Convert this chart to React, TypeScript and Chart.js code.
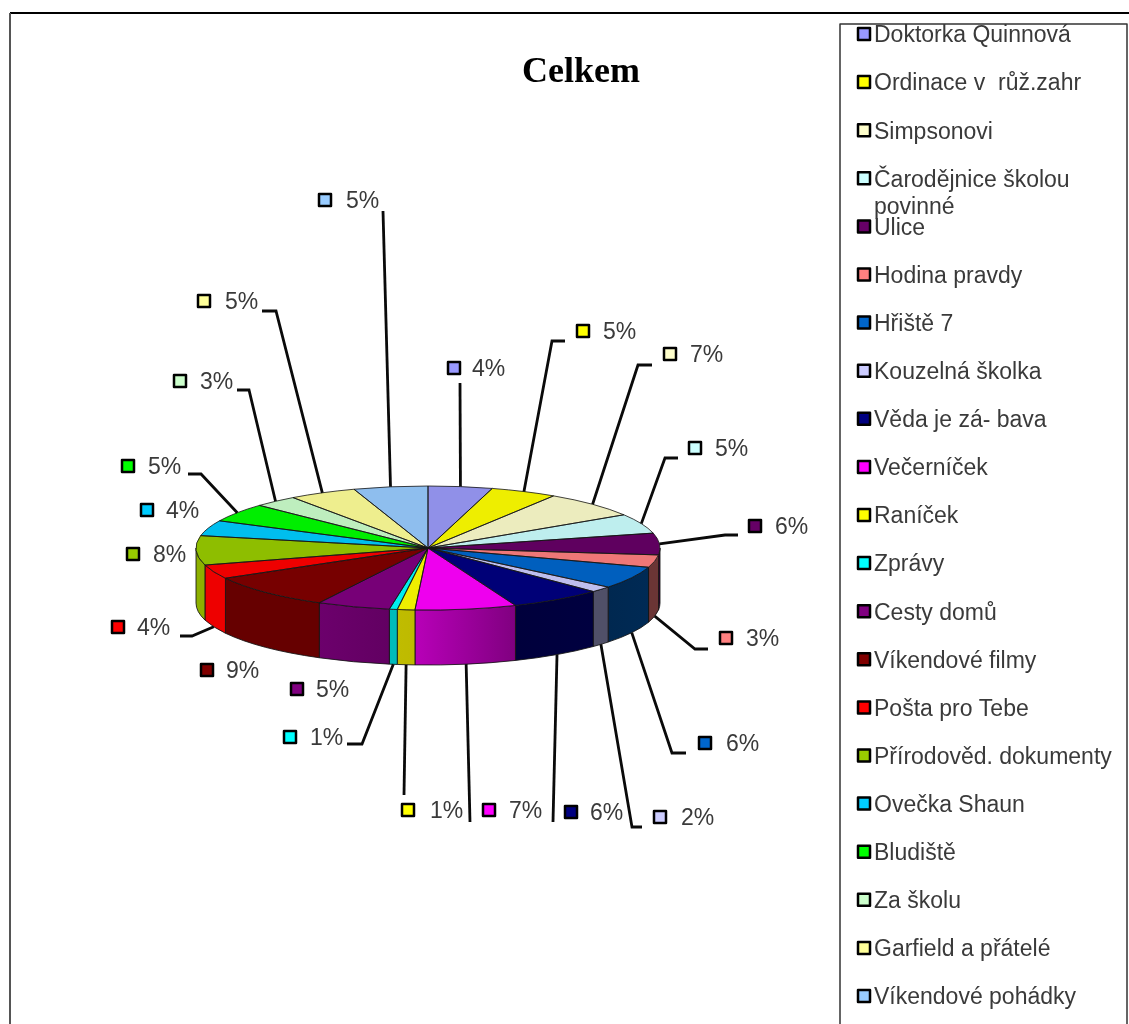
import React, { useEffect, useRef } from "react";
import { Chart, registerables } from "chart.js";

Chart.register(...registerables);

const categories = [
  "Doktorka Quinnová", "Ordinace v  růž.zahr", "Simpsonovi", "Čarodějnice školou povinné", "Ulice",
  "Hodina pravdy", "Hřiště 7", "Kouzelná školka", "Věda je zá- bava", "Večerníček", "Raníček", "Zprávy",
  "Cesty domů", "Víkendové filmy", "Pošta pro Tebe", "Přírodověd. dokumenty", "Ovečka Shaun",
  "Bludiště", "Za školu", "Garfield a přátelé", "Víkendové pohádky",
];
const shares = [
  4.47, 4.64, 6.9, 5.14, 5.64, 3.25, 5.83, 1.53, 6.47, 7.05, 1.22, 0.55, 5.1, 9.14, 3.67, 7.64, 4.03, 4.83, 3.06, 4.72, 5.17,
];
const legendColors = [
  "#9999FF", "#FFFF00", "#FFFFCC", "#CCFFFF", "#660066", "#FF8080", "#0066CC", "#CCCCFF", "#000080", "#FF00FF", "#FFFF00",
  "#00FFFF", "#800080", "#800000", "#FF0000", "#99CC00", "#00CCFF", "#00FF00", "#CCFFCC", "#FFFF99", "#99CCFF",
];
const faceColors = [
  "#9090E8", "#EEEE00", "#ECECBE", "#BEEEEE", "#5F005F", "#EE7777", "#005FBE", "#BEBEEE", "#000077", "#EE00EE", "#EEEE00",
  "#00EEEE", "#770077", "#770000", "#EE0000", "#8EBE00", "#00BEEE", "#00EE00", "#BEEEBE", "#EEEE8E", "#8EBEEE",
];
// wall shading of each slice: [left end, right end]
const wallColors: [string, string][] = [
  ["#5a5a90", "#5a5a90"], ["#909000", "#909000"], ["#909070", "#909070"], ["#709090", "#709090"], ["#3a003a", "#3a003a"],
  ["#6B3535", "#6B3535"], ["#002850", "#002A55"], ["#505068", "#505068"], ["#00003C", "#000040"], ["#B800B8", "#800080"],
  ["#C0BC00", "#BEBA00"], ["#00BBBB", "#00BBBB"], ["#6C006C", "#620062"], ["#660000", "#660000"], ["#EE0000", "#EE0000"],
  ["#8DB000", "#8DB000"], ["#00A0D0", "#00A0D0"], ["#00C000", "#00C000"], ["#A0C0A0", "#A0C0A0"], ["#C0C070", "#C0C070"], ["#7098C0", "#7098C0"],
];

const chartTitle = "Celkem";
const legendLines: string[][] = categories.map((c) => (c.startsWith("Čarodějnice") ? ["Čarodějnice školou", "povinné"] : [c]));

const SQUASH = 62 / 232;
const DEPTH = 55;

// label layout: marker centre x, y, text x; then the leader's bend points (empty = no leader)
const labelLayout: { mx: number; my: number; tx: number; bend: number[][] }[] = [
  { mx: 454, my: 368, tx: 472, bend: [[460, 383]] },
  { mx: 583, my: 331, tx: 603, bend: [[552, 341], [565, 341]] },
  { mx: 670, my: 354, tx: 690, bend: [[638, 365], [652, 365]] },
  { mx: 695, my: 448, tx: 715, bend: [[665, 458], [678, 458]] },
  { mx: 755, my: 526, tx: 775, bend: [[725, 535], [738, 535]] },
  { mx: 726, my: 638, tx: 746, bend: [[695, 649], [708, 649]] },
  { mx: 705, my: 743, tx: 726, bend: [[672, 753], [686, 753]] },
  { mx: 660, my: 817, tx: 681, bend: [[632, 827], [642, 827]] },
  { mx: 571, my: 812, tx: 590, bend: [[553, 822]] },
  { mx: 489, my: 810, tx: 509, bend: [[470, 822]] },
  { mx: 408, my: 810, tx: 430, bend: [[404, 795]] },
  { mx: 290, my: 737, tx: 310, bend: [[362, 744], [347, 744]] },
  { mx: 297, my: 689, tx: 316, bend: [] },
  { mx: 207, my: 670, tx: 226, bend: [] },
  { mx: 118, my: 627, tx: 137, bend: [[192, 636], [180, 636]] },
  { mx: 133, my: 554, tx: 153, bend: [] },
  { mx: 147, my: 510, tx: 166, bend: [] },
  { mx: 128, my: 466, tx: 148, bend: [[201, 474], [188, 474]] },
  { mx: 180, my: 381, tx: 200, bend: [[249, 390], [237, 390]] },
  { mx: 204, my: 301, tx: 225, bend: [[276, 311], [262, 311]] },
  { mx: 325, my: 200, tx: 346, bend: [[383, 211]] },
];

function marker(ctx: CanvasRenderingContext2D, x: number, y: number, color: string) {
  ctx.fillStyle = color;
  ctx.strokeStyle = "#000";
  ctx.lineWidth = 2.5;
  ctx.lineJoin = "round";
  ctx.beginPath();
  ctx.rect(x - 6, y - 6, 12, 12);
  ctx.fill();
  ctx.stroke();
}

const pie3d = {
  id: "pie3d",
  beforeDatasetsDraw(chart: any) {
    const ctx: CanvasRenderingContext2D = chart.ctx;
    // page frame
    ctx.save();
    ctx.strokeStyle = "#000";
    ctx.lineWidth = 2;
    ctx.beginPath();
    ctx.moveTo(1129, 13);
    ctx.lineTo(10, 13);
    ctx.stroke();
    ctx.strokeStyle = "#555";
    ctx.beginPath();
    ctx.moveTo(10, 13);
    ctx.lineTo(10, 1024);
    ctx.stroke();

    // walls of the front half
    const arcs = chart.getDatasetMeta(0).data;
    arcs.forEach((arc: any, i: number) => {
      const { x, y, outerRadius: r } = arc;
      const a0 = Math.max(arc.startAngle, 0);
      const a1 = Math.min(arc.endAngle, Math.PI);
      if (a1 <= a0) return;
      const ry = r * SQUASH;
      const xr = x + r * Math.cos(a0);
      const xl = x + r * Math.cos(a1);
      const g = ctx.createLinearGradient(xl, 0, xr, 0);
      g.addColorStop(0, wallColors[i][0]);
      g.addColorStop(1, wallColors[i][1]);
      ctx.beginPath();
      ctx.ellipse(x, y, r, ry, 0, a0, a1);
      ctx.ellipse(x, y + DEPTH, r, ry, 0, a1, a0, true);
      ctx.closePath();
      ctx.fillStyle = g;
      ctx.fill();
      ctx.strokeStyle = "rgba(20,20,20,0.85)";
      ctx.lineWidth = 1;
      ctx.stroke();
    });
    ctx.restore();
  },
  beforeDatasetDraw(chart: any) {
    const ctx: CanvasRenderingContext2D = chart.ctx;
    const arc = chart.getDatasetMeta(0).data[0];
    ctx.save();
    ctx.translate(arc.x, arc.y);
    ctx.scale(1, SQUASH);
    ctx.translate(-arc.x, -arc.y);
  },
  afterDatasetDraw(chart: any) {
    const ctx: CanvasRenderingContext2D = chart.ctx;
    ctx.restore();
    ctx.save();
    ctx.strokeStyle = "rgba(20,20,20,0.8)";
    ctx.lineWidth = 1;
    chart.getDatasetMeta(0).data.forEach((arc: any) => {
      const { x, y, outerRadius: r, startAngle, endAngle } = arc;
      ctx.beginPath();
      ctx.moveTo(x, y);
      ctx.ellipse(x, y, r, r * SQUASH, 0, startAngle, endAngle);
      ctx.closePath();
      ctx.stroke();
    });
    ctx.restore();
  },
  afterDatasetsDraw(chart: any) {
    const ctx: CanvasRenderingContext2D = chart.ctx;
    const arcs = chart.getDatasetMeta(0).data;
    ctx.save();

    // leaders
    ctx.strokeStyle = "#0a0a0a";
    ctx.lineWidth = 2.8;
    ctx.lineJoin = "miter";
    arcs.forEach((arc: any, i: number) => {
      const { bend } = labelLayout[i];
      if (!bend.length) return;
      const mid = (arc.startAngle + arc.endAngle) / 2;
      const s = Math.sin(mid);
      const sx = arc.x + arc.outerRadius * Math.cos(mid);
      const sy = arc.y + arc.outerRadius * SQUASH * s + (s > 0 ? DEPTH : 0);
      ctx.beginPath();
      ctx.moveTo(sx, sy);
      bend.forEach(([bx, by]) => ctx.lineTo(bx, by));
      ctx.stroke();
    });

    // data labels
    ctx.textBaseline = "middle";
    ctx.textAlign = "left";
    const total = shares.reduce((a, b) => a + b, 0);
    shares.forEach((v, i) => {
      const p = labelLayout[i];
      marker(ctx, p.mx, p.my, legendColors[i]);
      ctx.fillStyle = "#3a3a3a";
      ctx.font = '23px "Liberation Sans"';
      ctx.fillText(`${Math.max(1, Math.round((v / total) * 100))}%`, p.tx, p.my + 2);
    });

    // legend
    ctx.strokeStyle = "#333";
    ctx.lineWidth = 1.5;
    ctx.beginPath();
    ctx.moveTo(840, 1024);
    ctx.lineTo(840, 24);
    ctx.lineTo(1127, 24);
    ctx.lineTo(1127, 1024);
    ctx.stroke();
    legendLines.forEach((lines, i) => {
      const y = 34 + 48.1 * i;
      marker(ctx, 864, y, legendColors[i]);
      ctx.fillStyle = "#3a3a3a";
      ctx.font = '23px "Liberation Sans"';
      lines.forEach((t, k) => ctx.fillText(t, 874, y + 2 + k * 27));
    });

    // title
    ctx.fillStyle = "#000";
    ctx.font = 'bold 36px "Liberation Serif"';
    ctx.fillText(chartTitle, 522, 73);
    ctx.restore();
  },
};

export default function App() {
  const ref = useRef<HTMLCanvasElement>(null);
  useEffect(() => {
    const chart = new Chart(ref.current!, {
      type: "pie",
      data: {
        labels: categories,
        datasets: [{ data: shares, backgroundColor: faceColors, borderWidth: 0 }],
      },
      options: {
        responsive: false,
        animation: false,
        events: [],
        layout: { padding: { left: 196, right: 469, top: 316, bottom: 244 } },
        plugins: { legend: { display: false }, tooltip: { enabled: false }, title: { display: false } },
      },
      plugins: [pie3d],
    } as any);
    return () => chart.destroy();
  }, []);
  return (
    <div style={{ position: "absolute", left: 0, top: 0, width: 1129, height: 1024, overflow: "hidden" }}>
      <canvas ref={ref} width={1129} height={1024} style={{ display: "block" }} />
    </div>
  );
}
